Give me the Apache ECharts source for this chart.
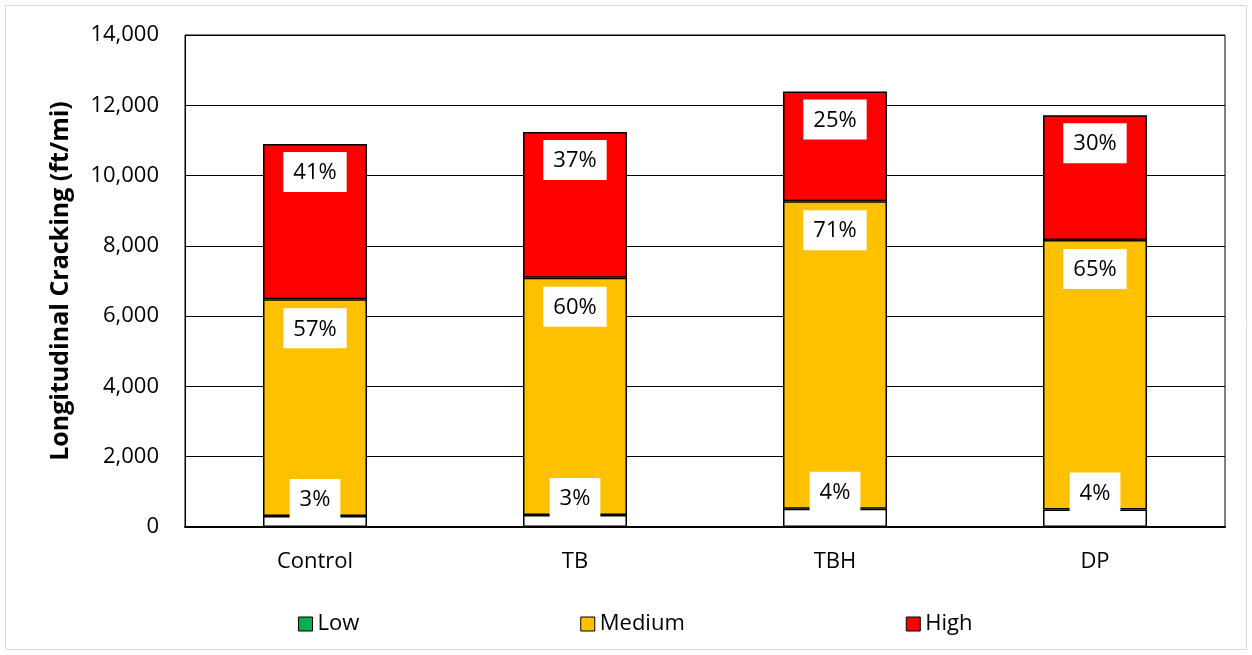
<!DOCTYPE html>
<html><head><meta charset="utf-8">
<script src="https://cdn.jsdelivr.net/npm/echarts@6/dist/echarts.min.js"></script>
<style>html,body{margin:0;padding:0;background:#fff}#c{width:1252px;height:655px}</style>
</head><body><div id="c"></div>
<script>
var categories = ['Control', 'TB', 'TBH', 'DP'];
var lowValues = [310, 340, 520, 500];
var mediumValues = [6170, 6750, 8750, 7670];
var highValues = [4420, 4150, 3120, 3550];
var lowPct = ['3%', '3%', '4%', '4%'];
var mediumPct = ['57%', '60%', '71%', '65%'];
var highPct = ['41%', '37%', '25%', '30%'];
var yTicks = {min: 0, max: 14000, interval: 2000};

var FONT = '"Open Sans", sans-serif';
function lbl(arr, pos, dist) {
  return {
    show: true, position: pos, distance: dist,
    formatter: function (p) { return arr[p.dataIndex]; },
    backgroundColor: '#fff', padding: [10, 10, 8, 10],
    color: '#000', fontSize: 22, fontFamily: FONT
  };
}
var chart = echarts.init(document.getElementById('c'));
chart.setOption({
  animation: false,
  graphic: [{type: 'rect', shape: {x: 5.5, y: 5.5, width: 1241, height: 644}, style: {fill: 'none', stroke: '#d9d9d9', lineWidth: 1}, z: -1}],
  grid: {left: 185, right: 27, top: 35, bottom: 128, show: true, borderColor: '#000', borderWidth: 1},
  legend: {
    left: 293, top: 608, itemGap: 221, itemWidth: 14, itemHeight: 14, icon: 'rect',
    textStyle: {fontSize: 22, fontFamily: FONT, color: '#000'},
    itemStyle: {borderColor: '#000', borderWidth: 1},
    data: [{name: 'Low', itemStyle: {color: '#00b050', borderColor: '#000', borderWidth: 1}}, 'Medium', 'High']
  },
  xAxis: {
    type: 'category', data: categories,
    axisLine: {lineStyle: {color: '#000', width: 2}},
    axisTick: {show: false},
    axisLabel: {fontSize: 22, fontFamily: FONT, color: '#000', margin: 24}
  },
  yAxis: {
    type: 'value', min: yTicks.min, max: yTicks.max, interval: yTicks.interval,
    name: 'Longitudinal Cracking (ft/mi)', nameLocation: 'middle', nameGap: 112,
    nameTextStyle: {fontSize: 25, fontWeight: 'bold', fontFamily: FONT, color: '#000'},
    axisLine: {show: true, lineStyle: {color: '#000', width: 1}},
    axisTick: {show: false},
    splitLine: {lineStyle: {color: '#000', width: 1}},
    axisLabel: {fontSize: 22, fontFamily: FONT, color: '#000', margin: 26,
      formatter: function (v) { return v.toLocaleString('en-US'); }}
  },
  series: [
    {name: 'Low', type: 'bar', stack: 's', data: lowValues, barWidth: '40%', z: 3,
      itemStyle: {color: '#fff', borderColor: '#000', borderWidth: 1.5},
      label: lbl(lowPct, 'top', -3)},
    {name: 'Medium', type: 'bar', stack: 's', data: mediumValues, barWidth: '40%',
      itemStyle: {color: '#ffc000', borderColor: '#000', borderWidth: 1.5},
      label: lbl(mediumPct, 'insideTop', 9)},
    {name: 'High', type: 'bar', stack: 's', data: highValues, barWidth: '40%',
      itemStyle: {color: '#ff0000', borderColor: '#000', borderWidth: 1.5},
      label: lbl(highPct, 'insideTop', 8)}
  ]
});
</script></body></html>
